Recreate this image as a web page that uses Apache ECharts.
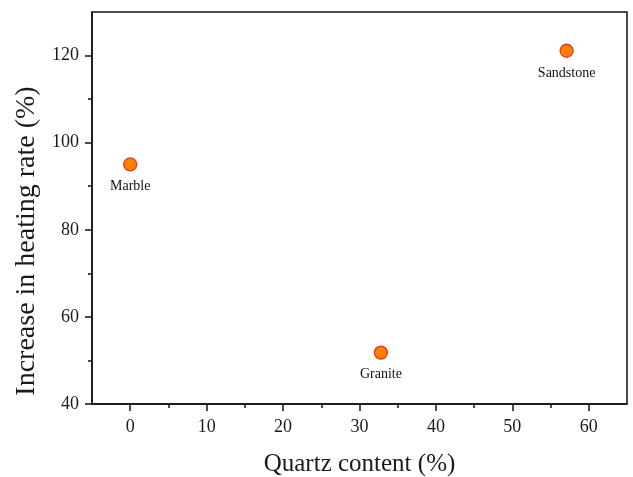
<!DOCTYPE html>
<html>
<head>
<meta charset="utf-8">
<script src="https://cdn.jsdelivr.net/npm/echarts@6/dist/echarts.min.js"></script>
<style>
html,body{margin:0;padding:0;background:#fff;}
#chart{width:633px;height:477px;}
</style>
</head>
<body>
<div id="chart"></div>
<script>
const categories = ['Marble', 'Granite', 'Sandstone'];
const quartzContent = [0, 32.8, 57.1];
const heatingRateIncrease = [95, 51.8, 121.1];
const xMajorTicks = [0, 10, 20, 30, 40, 50, 60];
const xMinorTicks = [5, 15, 25, 35, 45, 55];
const yMajorTicks = [40, 60, 80, 100, 120];
const yMinorTicks = [50, 70, 90, 110];
const xTitle = 'Quartz content (%)';
const yTitle = 'Increase in heating rate (%)';

const serif = "'Liberation Serif', 'DejaVu Serif', serif";
const black = '#111';
const textColor = '#1a1a1a';

const chart = echarts.init(document.getElementById('chart'));
const points = categories.map((c, i) => ({ name: c, value: [quartzContent[i], heatingRateIncrease[i]] }));

const baseX = { type: 'value', min: -5, max: 65, gridIndex: 0, position: 'bottom', splitLine: { show: false } };
const baseY = { type: 'value', min: 40, max: 130, gridIndex: 0, position: 'left', splitLine: { show: false } };

chart.setOption({
  backgroundColor: '#fff',
  animation: false,
  grid: { left: 92, top: 12, right: 6, bottom: 73, show: true, borderColor: black, borderWidth: 1.5, backgroundColor: 'transparent', outerBoundsMode: 'none', containLabel: false },
  graphic: [{
    type: 'text',
    x: 27,
    y: 241,
    rotation: Math.PI / 2,
    style: { text: yTitle, font: "28px 'Liberation Serif', serif", fill: textColor, textAlign: 'center', textVerticalAlign: 'middle' }
  }],
  xAxis: [
    Object.assign({}, baseX, {
      axisLine: { show: true, onZero: false, lineStyle: { color: black, width: 1.5 } },
      axisTick: { show: true, customValues: xMajorTicks, length: 7, lineStyle: { color: black, width: 1.5 } },
      axisLabel: { customValues: xMajorTicks, fontFamily: serif, fontSize: 18, color: textColor, margin: 14 },
      name: xTitle, nameLocation: 'middle', nameGap: 48,
      nameTextStyle: { fontFamily: serif, fontSize: 25, color: textColor }
    }),
    Object.assign({}, baseX, {
      axisLine: { show: false, onZero: false },
      axisTick: { show: true, customValues: xMinorTicks, length: 4, lineStyle: { color: black, width: 1.5 } },
      axisLabel: { show: false }
    })
  ],
  yAxis: [
    Object.assign({}, baseY, {
      axisLine: { show: true, onZero: false, lineStyle: { color: black, width: 1.5 } },
      axisTick: { show: true, customValues: yMajorTicks, length: 7, lineStyle: { color: black, width: 1.5 } },
      axisLabel: { customValues: yMajorTicks, fontFamily: serif, fontSize: 18, color: textColor, margin: 13 }
    }),
    Object.assign({}, baseY, {
      axisLine: { show: false, onZero: false },
      axisTick: { show: true, customValues: yMinorTicks, length: 4, lineStyle: { color: black, width: 1.5 } },
      axisLabel: { show: false }
    })
  ],
  series: [{
    type: 'scatter',
    xAxisIndex: 0,
    yAxisIndex: 0,
    data: points,
    symbol: 'circle',
    symbolSize: 13,
    itemStyle: { color: '#FF7F00', borderColor: '#E5391C', borderWidth: 1.3, opacity: 1 },
    emphasis: { disabled: true },
    label: {
      show: true,
      position: 'bottom',
      distance: 8,
      formatter: p => p.name,
      fontFamily: serif,
      fontSize: 14,
      color: '#111'
    }
  }]
});
</script>
</body>
</html>
